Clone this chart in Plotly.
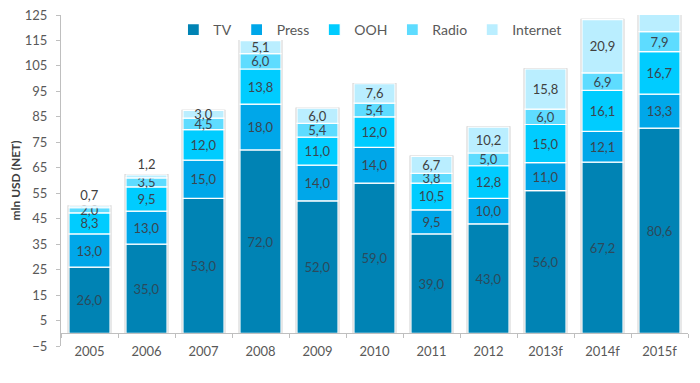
import plotly.graph_objects as go

years = ["2005", "2006", "2007", "2008", "2009", "2010", "2011", "2012", "2013f", "2014f", "2015f"]
tv = [26.0, 35.0, 53.0, 72.0, 52.0, 59.0, 39.0, 43.0, 56.0, 67.2, 80.6]
press = [13.0, 13.0, 15.0, 18.0, 14.0, 14.0, 9.5, 10.0, 11.0, 12.1, 13.3]
ooh = [8.3, 9.5, 12.0, 13.8, 11.0, 12.0, 10.5, 12.8, 15.0, 16.1, 16.7]
radio = [2.0, 3.5, 4.5, 6.0, 5.4, 5.4, 3.8, 5.0, 6.0, 6.9, 7.9]
internet = [0.7, 1.2, 3.0, 5.1, 6.0, 7.6, 6.7, 10.2, 15.8, 20.9, 26.0]
# the 2015f internet label is off the chart in the original
internet_label_shown = [True] * 10 + [False]
internet_outside = [True, True] + [False] * 9

series_names = ["TV", "Press", "OOH", "Radio", "Internet"]
series_vals = [tv, press, ooh, radio, internet]
colors = ["#0083B4", "#00A7E9", "#00CCFF", "#5EDCFF", "#BAEEFF"]
label_colors = ["#2B4A5C", "#3A4650", "#3A4650", "#3A4650", "#404040"]

FONT = "Lato"

def fmt(v):
    return f"{v:.1f}".replace(".", ",")

fig = go.Figure()

# totals for the light outline / shadow behind each stack
totals = [sum(s[i] for s in series_vals) for i in range(len(years))]
fig.add_trace(go.Bar(
    x=years, y=totals, base=[0] * len(years), width=0.74,
    marker=dict(color="#FFFFFF", line=dict(color="#C4C4C4", width=1.6)),
    showlegend=False, hoverinfo="skip",
))

bases = [0.0] * len(years)
for k, (name, vals) in enumerate(zip(series_names, series_vals)):
    texts = [fmt(v) for v in vals]
    positions = ["inside"] * len(years)
    if name == "Internet":
        texts = [t if show else "" for t, show in zip(texts, internet_label_shown)]
        positions = ["outside" if o else "inside" for o in internet_outside]
    fig.add_trace(go.Bar(
        x=years, y=vals, base=list(bases), name=name, width=0.72,
        marker=dict(color=colors[k], line=dict(color="#FFFFFF", width=1.2)),
        text=texts, textposition=positions, textangle=0,
        constraintext="none", insidetextanchor="middle",
        textfont=dict(family=FONT, size=13, color=label_colors[k]),
        outsidetextfont=dict(family=FONT, size=13, color="#404040"),
        cliponaxis=True, showlegend=True,
    ))
    bases = [b + v for b, v in zip(bases, vals)]

fig.update_layout(
    template="none",
    width=692, height=375,
    margin=dict(l=53, r=12, t=7, b=37, autoexpand=False),
    paper_bgcolor="white", plot_bgcolor="white",
    barmode="overlay",
    font=dict(family=FONT, size=13, color="#595959"),
    legend=dict(
        orientation="h", yanchor="middle", y=0.9547, xanchor="right", x=0.806,
        bgcolor="rgba(0,0,0,0)", borderwidth=0, traceorder="normal",
        font=dict(family=FONT, size=14, color="#595959"),
    ),
    xaxis=dict(
        type="category", range=[-0.5, 10.5],
        anchor="free", position=5 / 130,
        showline=True, linecolor="#BFBFBF", linewidth=1,
        ticks="outside", tickson="boundaries", ticklen=4, tickcolor="#BFBFBF",
        showgrid=False, zeroline=False,
        tickfont=dict(family=FONT, size=13, color="#595959"),
        ticklabelstandoff=6, automargin=False,
    ),
    yaxis=dict(
        range=[-5, 125], tick0=-5, dtick=10,
        showline=True, linecolor="#BFBFBF", linewidth=1,
        ticks="outside", ticklen=4, tickcolor="#BFBFBF",
        showgrid=False, zeroline=False,
        tickfont=dict(family=FONT, size=13, color="#595959"),
        ticklabelstandoff=6, automargin=False, ticklabeloverflow="allow",
        title=dict(text="mln USD (NET)", standoff=6,
                   font=dict(family=FONT, size=12, color="#404040", weight="bold")),
    ),
)

fig.write_html("out.html")
